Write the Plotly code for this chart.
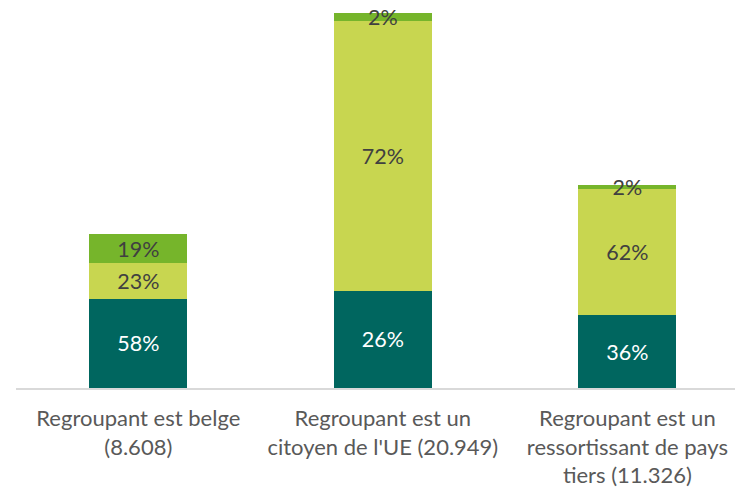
import plotly.graph_objects as go

categories = ["Regroupant est belge<br>(8.608)",
              "Regroupant est un<br>citoyen de l'UE (20.949)",
              "Regroupant est un<br>ressortissant de pays<br>tiers (11.326)"]
totals = [8608, 20949, 11326]
pct_dark = [58, 26, 36]
pct_light = [23, 72, 62]
pct_green = [19, 2, 2]

series = [
    (pct_dark, "#00665F", "white"),
    (pct_light, "#C8D650", "#404040"),
    (pct_green, "#76B52B", "#404040"),
]

FS = 21.5
fig = go.Figure()
for pcts, color, tcolor in series:
    fig.add_trace(go.Bar(
        x=[0, 1, 2],
        y=[t * p / 100 for t, p in zip(totals, pcts)],
        text=[f"{p}%" for p in pcts],
        textposition="inside",
        insidetextanchor="middle",
        constraintext="none",
        textfont=dict(color=tcolor, size=FS, family="Lato"),
        marker=dict(color=color, line=dict(width=0)),
        width=0.4,
        cliponaxis=False,
        showlegend=False,
        hoverinfo="skip",
    ))

fig.update_layout(
    barmode="stack",
    width=735, height=488,
    margin=dict(l=16, r=0, t=0, b=100, autoexpand=False),
    paper_bgcolor="white", plot_bgcolor="white",
    font=dict(family="Lato", color="#595959", size=FS),
    uniformtext=dict(mode=False),
)
fig.update_xaxes(
    tickmode="array", tickvals=[0, 1, 2], ticktext=categories,
    range=[-0.5, 2.44], showline=True, linecolor="#D9D9D9", linewidth=1.5,
    showgrid=False, ticks="outside", ticklen=10, tickcolor="rgba(0,0,0,0)",
    tickfont=dict(size=22, color="#595959", family="Lato"),
    automargin=False,
)
fig.update_yaxes(range=[0, 20949 * 388 / 375], visible=False, showgrid=False)

fig.write_html("out.html", config={"displayModeBar": False},
               post_script="document.body.style.margin='0';document.body.style.padding='0';")
